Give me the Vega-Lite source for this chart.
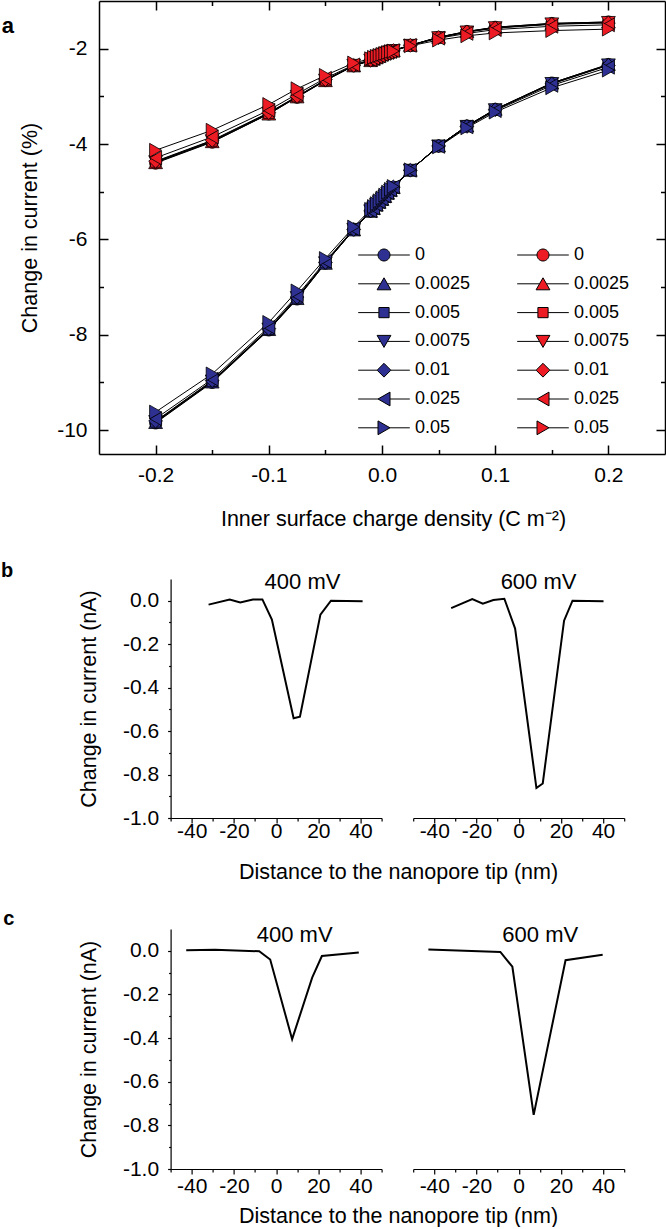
{
"$schema":"https://vega.github.io/schema/vega-lite/v6.json",
"padding":0,
"background":"white",
"config":{
 "font":"Liberation Sans",
 "locale":{"number":{"decimal":".","thousands":",","grouping":[3],"currency":["$",""],"minus":"-"}},
 "view":{"stroke":null},
 "axis":{"grid":false,"labelFont":"Liberation Sans","titleFont":"Liberation Sans","labelFontSize":21,"titleFontSize":21.5,"titleFontWeight":"normal","labelColor":"black","titleColor":"black","domainColor":"black","tickColor":"black","labelOverlap":false,"labelFlush":false},
 "legend":{"labelFont":"Liberation Sans","labelColor":"black"},
 "title":{"font":"Liberation Sans","color":"black","fontWeight":"normal"},
 "text":{"font":"Liberation Sans","fontSize":22,"color":"black"}
},
"datasets":{
"a":[
{"s":"B 0","x":-0.2,"y":-9.85},{"s":"B 0","x":-0.15,"y":-9.0},{"s":"B 0","x":-0.1,"y":-7.9},{"s":"B 0","x":-0.075,"y":-7.25},{"s":"B 0","x":-0.05,"y":-6.5},{"s":"B 0","x":-0.025,"y":-5.8},{"s":"B 0","x":-0.01,"y":-5.41},{"s":"B 0","x":-0.0075,"y":-5.35},{"s":"B 0","x":-0.005,"y":-5.28},{"s":"B 0","x":-0.0025,"y":-5.22},{"s":"B 0","x":0,"y":-5.16},{"s":"B 0","x":0.0025,"y":-5.1},{"s":"B 0","x":0.005,"y":-5.03},{"s":"B 0","x":0.0075,"y":-4.97},{"s":"B 0","x":0.01,"y":-4.91},{"s":"B 0","x":0.025,"y":-4.55},{"s":"B 0","x":0.05,"y":-4.04},{"s":"B 0","x":0.075,"y":-3.62},{"s":"B 0","x":0.1,"y":-3.27},{"s":"B 0","x":0.15,"y":-2.72},{"s":"B 0","x":0.2,"y":-2.33},
{"s":"B 0.0025","x":-0.2,"y":-9.84},{"s":"B 0.0025","x":-0.15,"y":-8.99},{"s":"B 0.0025","x":-0.1,"y":-7.89},{"s":"B 0.0025","x":-0.075,"y":-7.24},{"s":"B 0.0025","x":-0.05,"y":-6.5},{"s":"B 0.0025","x":-0.025,"y":-5.8},{"s":"B 0.0025","x":-0.01,"y":-5.41},{"s":"B 0.0025","x":-0.0075,"y":-5.35},{"s":"B 0.0025","x":-0.005,"y":-5.28},{"s":"B 0.0025","x":-0.0025,"y":-5.22},{"s":"B 0.0025","x":0,"y":-5.16},{"s":"B 0.0025","x":0.0025,"y":-5.1},{"s":"B 0.0025","x":0.005,"y":-5.03},{"s":"B 0.0025","x":0.0075,"y":-4.97},{"s":"B 0.0025","x":0.01,"y":-4.91},{"s":"B 0.0025","x":0.025,"y":-4.55},{"s":"B 0.0025","x":0.05,"y":-4.04},{"s":"B 0.0025","x":0.075,"y":-3.62},{"s":"B 0.0025","x":0.1,"y":-3.27},{"s":"B 0.0025","x":0.15,"y":-2.72},{"s":"B 0.0025","x":0.2,"y":-2.33},
{"s":"B 0.005","x":-0.2,"y":-9.83},{"s":"B 0.005","x":-0.15,"y":-8.98},{"s":"B 0.005","x":-0.1,"y":-7.89},{"s":"B 0.005","x":-0.075,"y":-7.23},{"s":"B 0.005","x":-0.05,"y":-6.49},{"s":"B 0.005","x":-0.025,"y":-5.79},{"s":"B 0.005","x":-0.01,"y":-5.41},{"s":"B 0.005","x":-0.0075,"y":-5.34},{"s":"B 0.005","x":-0.005,"y":-5.28},{"s":"B 0.005","x":-0.0025,"y":-5.22},{"s":"B 0.005","x":0,"y":-5.16},{"s":"B 0.005","x":0.0025,"y":-5.1},{"s":"B 0.005","x":0.005,"y":-5.03},{"s":"B 0.005","x":0.0075,"y":-4.97},{"s":"B 0.005","x":0.01,"y":-4.91},{"s":"B 0.005","x":0.025,"y":-4.55},{"s":"B 0.005","x":0.05,"y":-4.04},{"s":"B 0.005","x":0.075,"y":-3.62},{"s":"B 0.005","x":0.1,"y":-3.28},{"s":"B 0.005","x":0.15,"y":-2.73},{"s":"B 0.005","x":0.2,"y":-2.34},
{"s":"B 0.0075","x":-0.2,"y":-9.82},{"s":"B 0.0075","x":-0.15,"y":-8.97},{"s":"B 0.0075","x":-0.1,"y":-7.88},{"s":"B 0.0075","x":-0.075,"y":-7.22},{"s":"B 0.0075","x":-0.05,"y":-6.49},{"s":"B 0.0075","x":-0.025,"y":-5.79},{"s":"B 0.0075","x":-0.01,"y":-5.4},{"s":"B 0.0075","x":-0.0075,"y":-5.34},{"s":"B 0.0075","x":-0.005,"y":-5.27},{"s":"B 0.0075","x":-0.0025,"y":-5.21},{"s":"B 0.0075","x":0,"y":-5.15},{"s":"B 0.0075","x":0.0025,"y":-5.09},{"s":"B 0.0075","x":0.005,"y":-5.03},{"s":"B 0.0075","x":0.0075,"y":-4.97},{"s":"B 0.0075","x":0.01,"y":-4.91},{"s":"B 0.0075","x":0.025,"y":-4.55},{"s":"B 0.0075","x":0.05,"y":-4.04},{"s":"B 0.0075","x":0.075,"y":-3.63},{"s":"B 0.0075","x":0.1,"y":-3.28},{"s":"B 0.0075","x":0.15,"y":-2.73},{"s":"B 0.0075","x":0.2,"y":-2.34},
{"s":"B 0.01","x":-0.2,"y":-9.81},{"s":"B 0.01","x":-0.15,"y":-8.96},{"s":"B 0.01","x":-0.1,"y":-7.87},{"s":"B 0.01","x":-0.075,"y":-7.21},{"s":"B 0.01","x":-0.05,"y":-6.48},{"s":"B 0.01","x":-0.025,"y":-5.79},{"s":"B 0.01","x":-0.01,"y":-5.4},{"s":"B 0.01","x":-0.0075,"y":-5.34},{"s":"B 0.01","x":-0.005,"y":-5.27},{"s":"B 0.01","x":-0.0025,"y":-5.21},{"s":"B 0.01","x":0,"y":-5.15},{"s":"B 0.01","x":0.0025,"y":-5.09},{"s":"B 0.01","x":0.005,"y":-5.02},{"s":"B 0.01","x":0.0075,"y":-4.96},{"s":"B 0.01","x":0.01,"y":-4.9},{"s":"B 0.01","x":0.025,"y":-4.55},{"s":"B 0.01","x":0.05,"y":-4.04},{"s":"B 0.01","x":0.075,"y":-3.63},{"s":"B 0.01","x":0.1,"y":-3.28},{"s":"B 0.01","x":0.15,"y":-2.74},{"s":"B 0.01","x":0.2,"y":-2.35},
{"s":"B 0.025","x":-0.2,"y":-9.76},{"s":"B 0.025","x":-0.15,"y":-8.93},{"s":"B 0.025","x":-0.1,"y":-7.84},{"s":"B 0.025","x":-0.075,"y":-7.18},{"s":"B 0.025","x":-0.05,"y":-6.46},{"s":"B 0.025","x":-0.025,"y":-5.78},{"s":"B 0.025","x":-0.01,"y":-5.4},{"s":"B 0.025","x":-0.0075,"y":-5.34},{"s":"B 0.025","x":-0.005,"y":-5.27},{"s":"B 0.025","x":-0.0025,"y":-5.21},{"s":"B 0.025","x":0,"y":-5.15},{"s":"B 0.025","x":0.0025,"y":-5.09},{"s":"B 0.025","x":0.005,"y":-5.02},{"s":"B 0.025","x":0.0075,"y":-4.96},{"s":"B 0.025","x":0.01,"y":-4.9},{"s":"B 0.025","x":0.025,"y":-4.55},{"s":"B 0.025","x":0.05,"y":-4.05},{"s":"B 0.025","x":0.075,"y":-3.64},{"s":"B 0.025","x":0.1,"y":-3.3},{"s":"B 0.025","x":0.15,"y":-2.77},{"s":"B 0.025","x":0.2,"y":-2.39},
{"s":"B 0.05","x":-0.2,"y":-9.62},{"s":"B 0.05","x":-0.15,"y":-8.82},{"s":"B 0.05","x":-0.1,"y":-7.74},{"s":"B 0.05","x":-0.075,"y":-7.08},{"s":"B 0.05","x":-0.05,"y":-6.4},{"s":"B 0.05","x":-0.025,"y":-5.74},{"s":"B 0.05","x":-0.01,"y":-5.37},{"s":"B 0.05","x":-0.0075,"y":-5.31},{"s":"B 0.05","x":-0.005,"y":-5.25},{"s":"B 0.05","x":-0.0025,"y":-5.19},{"s":"B 0.05","x":0,"y":-5.13},{"s":"B 0.05","x":0.0025,"y":-5.07},{"s":"B 0.05","x":0.005,"y":-5.01},{"s":"B 0.05","x":0.0075,"y":-4.95},{"s":"B 0.05","x":0.01,"y":-4.89},{"s":"B 0.05","x":0.025,"y":-4.54},{"s":"B 0.05","x":0.05,"y":-4.06},{"s":"B 0.05","x":0.075,"y":-3.66},{"s":"B 0.05","x":0.1,"y":-3.33},{"s":"B 0.05","x":0.15,"y":-2.82},{"s":"B 0.05","x":0.2,"y":-2.45},
{"s":"R 0","x":-0.2,"y":-4.4},{"s":"R 0","x":-0.15,"y":-3.96},{"s":"R 0","x":-0.1,"y":-3.37},{"s":"R 0","x":-0.075,"y":-3.02},{"s":"R 0","x":-0.05,"y":-2.67},{"s":"R 0","x":-0.025,"y":-2.36},{"s":"R 0","x":-0.01,"y":-2.25},{"s":"R 0","x":-0.0075,"y":-2.22},{"s":"R 0","x":-0.005,"y":-2.19},{"s":"R 0","x":-0.0025,"y":-2.16},{"s":"R 0","x":0,"y":-2.13},{"s":"R 0","x":0.0025,"y":-2.1},{"s":"R 0","x":0.005,"y":-2.08},{"s":"R 0","x":0.0075,"y":-2.06},{"s":"R 0","x":0.01,"y":-2.04},{"s":"R 0","x":0.025,"y":-1.93},{"s":"R 0","x":0.05,"y":-1.76},{"s":"R 0","x":0.075,"y":-1.64},{"s":"R 0","x":0.1,"y":-1.55},{"s":"R 0","x":0.15,"y":-1.47},{"s":"R 0","x":0.2,"y":-1.44},
{"s":"R 0.0025","x":-0.2,"y":-4.39},{"s":"R 0.0025","x":-0.15,"y":-3.95},{"s":"R 0.0025","x":-0.1,"y":-3.37},{"s":"R 0.0025","x":-0.075,"y":-3.01},{"s":"R 0.0025","x":-0.05,"y":-2.67},{"s":"R 0.0025","x":-0.025,"y":-2.36},{"s":"R 0.0025","x":-0.01,"y":-2.25},{"s":"R 0.0025","x":-0.0075,"y":-2.22},{"s":"R 0.0025","x":-0.005,"y":-2.19},{"s":"R 0.0025","x":-0.0025,"y":-2.16},{"s":"R 0.0025","x":0,"y":-2.13},{"s":"R 0.0025","x":0.0025,"y":-2.1},{"s":"R 0.0025","x":0.005,"y":-2.08},{"s":"R 0.0025","x":0.0075,"y":-2.06},{"s":"R 0.0025","x":0.01,"y":-2.04},{"s":"R 0.0025","x":0.025,"y":-1.93},{"s":"R 0.0025","x":0.05,"y":-1.76},{"s":"R 0.0025","x":0.075,"y":-1.64},{"s":"R 0.0025","x":0.1,"y":-1.55},{"s":"R 0.0025","x":0.15,"y":-1.47},{"s":"R 0.0025","x":0.2,"y":-1.44},
{"s":"R 0.005","x":-0.2,"y":-4.38},{"s":"R 0.005","x":-0.15,"y":-3.94},{"s":"R 0.005","x":-0.1,"y":-3.36},{"s":"R 0.005","x":-0.075,"y":-3.01},{"s":"R 0.005","x":-0.05,"y":-2.66},{"s":"R 0.005","x":-0.025,"y":-2.36},{"s":"R 0.005","x":-0.01,"y":-2.24},{"s":"R 0.005","x":-0.0075,"y":-2.21},{"s":"R 0.005","x":-0.005,"y":-2.19},{"s":"R 0.005","x":-0.0025,"y":-2.16},{"s":"R 0.005","x":0,"y":-2.13},{"s":"R 0.005","x":0.0025,"y":-2.1},{"s":"R 0.005","x":0.005,"y":-2.08},{"s":"R 0.005","x":0.0075,"y":-2.06},{"s":"R 0.005","x":0.01,"y":-2.04},{"s":"R 0.005","x":0.025,"y":-1.93},{"s":"R 0.005","x":0.05,"y":-1.76},{"s":"R 0.005","x":0.075,"y":-1.64},{"s":"R 0.005","x":0.1,"y":-1.56},{"s":"R 0.005","x":0.15,"y":-1.48},{"s":"R 0.005","x":0.2,"y":-1.45},
{"s":"R 0.0075","x":-0.2,"y":-4.37},{"s":"R 0.0075","x":-0.15,"y":-3.93},{"s":"R 0.0075","x":-0.1,"y":-3.35},{"s":"R 0.0075","x":-0.075,"y":-3.0},{"s":"R 0.0075","x":-0.05,"y":-2.66},{"s":"R 0.0075","x":-0.025,"y":-2.35},{"s":"R 0.0075","x":-0.01,"y":-2.24},{"s":"R 0.0075","x":-0.0075,"y":-2.21},{"s":"R 0.0075","x":-0.005,"y":-2.18},{"s":"R 0.0075","x":-0.0025,"y":-2.15},{"s":"R 0.0075","x":0,"y":-2.13},{"s":"R 0.0075","x":0.0025,"y":-2.1},{"s":"R 0.0075","x":0.005,"y":-2.08},{"s":"R 0.0075","x":0.0075,"y":-2.06},{"s":"R 0.0075","x":0.01,"y":-2.04},{"s":"R 0.0075","x":0.025,"y":-1.93},{"s":"R 0.0075","x":0.05,"y":-1.77},{"s":"R 0.0075","x":0.075,"y":-1.65},{"s":"R 0.0075","x":0.1,"y":-1.56},{"s":"R 0.0075","x":0.15,"y":-1.48},{"s":"R 0.0075","x":0.2,"y":-1.45},
{"s":"R 0.01","x":-0.2,"y":-4.36},{"s":"R 0.01","x":-0.15,"y":-3.92},{"s":"R 0.01","x":-0.1,"y":-3.34},{"s":"R 0.01","x":-0.075,"y":-3.0},{"s":"R 0.01","x":-0.05,"y":-2.65},{"s":"R 0.01","x":-0.025,"y":-2.35},{"s":"R 0.01","x":-0.01,"y":-2.24},{"s":"R 0.01","x":-0.0075,"y":-2.21},{"s":"R 0.01","x":-0.005,"y":-2.18},{"s":"R 0.01","x":-0.0025,"y":-2.15},{"s":"R 0.01","x":0,"y":-2.12},{"s":"R 0.01","x":0.0025,"y":-2.1},{"s":"R 0.01","x":0.005,"y":-2.08},{"s":"R 0.01","x":0.0075,"y":-2.06},{"s":"R 0.01","x":0.01,"y":-2.04},{"s":"R 0.01","x":0.025,"y":-1.93},{"s":"R 0.01","x":0.05,"y":-1.77},{"s":"R 0.01","x":0.075,"y":-1.65},{"s":"R 0.01","x":0.1,"y":-1.57},{"s":"R 0.01","x":0.15,"y":-1.49},{"s":"R 0.01","x":0.2,"y":-1.46},
{"s":"R 0.025","x":-0.2,"y":-4.29},{"s":"R 0.025","x":-0.15,"y":-3.85},{"s":"R 0.025","x":-0.1,"y":-3.29},{"s":"R 0.025","x":-0.075,"y":-2.95},{"s":"R 0.025","x":-0.05,"y":-2.62},{"s":"R 0.025","x":-0.025,"y":-2.34},{"s":"R 0.025","x":-0.01,"y":-2.23},{"s":"R 0.025","x":-0.0075,"y":-2.2},{"s":"R 0.025","x":-0.005,"y":-2.17},{"s":"R 0.025","x":-0.0025,"y":-2.15},{"s":"R 0.025","x":0,"y":-2.12},{"s":"R 0.025","x":0.0025,"y":-2.1},{"s":"R 0.025","x":0.005,"y":-2.08},{"s":"R 0.025","x":0.0075,"y":-2.06},{"s":"R 0.025","x":0.01,"y":-2.04},{"s":"R 0.025","x":0.025,"y":-1.93},{"s":"R 0.025","x":0.05,"y":-1.78},{"s":"R 0.025","x":0.075,"y":-1.68},{"s":"R 0.025","x":0.1,"y":-1.6},{"s":"R 0.025","x":0.15,"y":-1.53},{"s":"R 0.025","x":0.2,"y":-1.5},
{"s":"R 0.05","x":-0.2,"y":-4.13},{"s":"R 0.05","x":-0.15,"y":-3.71},{"s":"R 0.05","x":-0.1,"y":-3.17},{"s":"R 0.05","x":-0.075,"y":-2.84},{"s":"R 0.05","x":-0.05,"y":-2.56},{"s":"R 0.05","x":-0.025,"y":-2.3},{"s":"R 0.05","x":-0.01,"y":-2.21},{"s":"R 0.05","x":-0.0075,"y":-2.18},{"s":"R 0.05","x":-0.005,"y":-2.16},{"s":"R 0.05","x":-0.0025,"y":-2.14},{"s":"R 0.05","x":0,"y":-2.12},{"s":"R 0.05","x":0.0025,"y":-2.1},{"s":"R 0.05","x":0.005,"y":-2.08},{"s":"R 0.05","x":0.0075,"y":-2.06},{"s":"R 0.05","x":0.01,"y":-2.05},{"s":"R 0.05","x":0.025,"y":-1.94},{"s":"R 0.05","x":0.05,"y":-1.82},{"s":"R 0.05","x":0.075,"y":-1.73},{"s":"R 0.05","x":0.1,"y":-1.67},{"s":"R 0.05","x":0.15,"y":-1.62},{"s":"R 0.05","x":0.2,"y":-1.59}
],
"bc":[
{"p":"b400","x":-32,"y":-0.018},{"p":"b400","x":-22,"y":0.005},{"p":"b400","x":-17,"y":-0.008},{"p":"b400","x":-11,"y":0.006},{"p":"b400","x":-6.5,"y":0.006},{"p":"b400","x":-2,"y":-0.087},{"p":"b400","x":8.3,"y":-0.541},{"p":"b400","x":11.3,"y":-0.534},{"p":"b400","x":21,"y":-0.064},{"p":"b400","x":26,"y":0.0},{"p":"b400","x":41,"y":-0.002},
{"p":"b600","x":-32,"y":-0.034},{"p":"b600","x":-22,"y":0.008},{"p":"b600","x":-17,"y":-0.014},{"p":"b600","x":-12,"y":0.003},{"p":"b600","x":-6.8,"y":0.009},{"p":"b600","x":-1.7,"y":-0.128},{"p":"b600","x":8.4,"y":-0.862},{"p":"b600","x":11.4,"y":-0.841},{"p":"b600","x":21.5,"y":-0.092},{"p":"b600","x":25.5,"y":0.0},{"p":"b600","x":40.2,"y":-0.002},
{"p":"c400","x":-42.6,"y":0.003},{"p":"c400","x":-29,"y":0.005},{"p":"c400","x":-8,"y":-0.002},{"p":"c400","x":-2.8,"y":-0.04},{"p":"c400","x":7.6,"y":-0.405},{"p":"c400","x":17.1,"y":-0.123},{"p":"c400","x":21.7,"y":-0.024},{"p":"c400","x":39.2,"y":-0.008},
{"p":"c600","x":-42.8,"y":0.006},{"p":"c600","x":-8.7,"y":-0.005},{"p":"c600","x":-3,"y":-0.073},{"p":"c600","x":7.1,"y":-0.752},{"p":"c600","x":22.2,"y":-0.043},{"p":"c600","x":39.8,"y":-0.018}
]
},
"spacing":30,
"vconcat":[
{
 "width":566,"height":453,
 "title":{"text":"a","orient":"left","anchor":"end","angle":0,"align":"right","baseline":"top","fontSize":22,"fontWeight":"bold","offset":-6.5,"frame":"bounds","dy":16},
 "data":{"name":"a"},
 "layer":[
  {"mark":{"type":"line","color":"black","strokeWidth":1},
   "encoding":{
    "x":{"field":"x","type":"quantitative","scale":{"domain":[-0.25,0.25],"nice":false,"zero":false},
     "axis":{"orient":"bottom","values":[-0.2,-0.15,-0.1,-0.05,0,0.05,0.1,0.15,0.2],"format":".1f","labelExpr":"abs(datum.value*10 - round(datum.value*10)) < 0.001 ? replace(datum.label, '−', '-') : ''","tickSize":{"condition":{"test":"abs(datum.value*10 - round(datum.value*10)) < 0.001","value":-9},"value":-4.5},"labelPadding":19.5,"domainWidth":1.5,"tickWidth":1.5,"title":"Inner surface charge density (C m⁻²)","titlePadding":18,"titleX":294}},
    "y":{"field":"y","type":"quantitative","scale":{"domain":[-10.5,-1],"nice":false,"zero":false},
     "axis":{"orient":"left","values":[-10,-9,-8,-7,-6,-5,-4,-3,-2],"format":"d","labelExpr":"datum.value % 2 == 0 ? replace(datum.label, '−', '-') : ''","tickSize":{"condition":{"test":"datum.value % 2 == 0","value":-9},"value":-4.5},"labelPadding":21,"domainWidth":1.5,"tickWidth":1.5,"title":"Change in current (%)","titlePadding":15}},
    "detail":{"field":"s"}
   }},
  {"mark":{"type":"point","filled":true,"stroke":"black","strokeWidth":0.8,"size":144,"opacity":1},
   "encoding":{
    "x":{"field":"x","type":"quantitative","axis":{"orient":"top","values":[-0.2,-0.15,-0.1,-0.05,0,0.05,0.1,0.15,0.2],"labels":false,"title":null,"tickSize":{"condition":{"test":"abs(datum.value*10 - round(datum.value*10)) < 0.001","value":-9},"value":-4.5},"domainWidth":1.5,"tickWidth":1.5}},
    "y":{"field":"y","type":"quantitative","axis":{"orient":"right","values":[-10,-9,-8,-7,-6,-5,-4,-3,-2],"labels":false,"title":null,"tickSize":{"condition":{"test":"datum.value % 2 == 0","value":-9},"value":-4.5},"domainWidth":1.5,"tickWidth":1.5}},
    "shape":{"field":"s","type":"nominal","legend":null,"scale":{"domain":["B 0","B 0.0025","B 0.005","B 0.0075","B 0.01","B 0.025","B 0.05","R 0","R 0.0025","R 0.005","R 0.0075","R 0.01","R 0.025","R 0.05"],"range":["M1,0A1,1,0,1,1,-1,0A1,1,0,1,1,1,0Z","M0,-1L1.15,1L-1.15,1Z","M-0.85,-0.85H0.85V0.85H-0.85Z","M0,1L1.15,-1L-1.15,-1Z","M-1.15,0L0,-1.15L1.15,0L0,1.15Z","M-1,0L1,-1.15L1,1.15Z","M1,0L-1,-1.15L-1,1.15Z","M1,0A1,1,0,1,1,-1,0A1,1,0,1,1,1,0Z","M0,-1L1.15,1L-1.15,1Z","M-0.85,-0.85H0.85V0.85H-0.85Z","M0,1L1.15,-1L-1.15,-1Z","M-1.15,0L0,-1.15L1.15,0L0,1.15Z","M-1,0L1,-1.15L1,1.15Z","M1,0L-1,-1.15L-1,1.15Z"]}},
    "fill":{"field":"s","type":"nominal","legend":null,"scale":{"domain":["B 0","B 0.0025","B 0.005","B 0.0075","B 0.01","B 0.025","B 0.05","R 0","R 0.0025","R 0.005","R 0.0075","R 0.01","R 0.025","R 0.05"],"range":["#2E3192","#2E3192","#2E3192","#2E3192","#2E3192","#2E3192","#2E3192","#ED1C24","#ED1C24","#ED1C24","#ED1C24","#ED1C24","#ED1C24","#ED1C24"]}}
   }},
  {"mark":{"type":"point","filled":true,"stroke":"black","strokeWidth":1,"size":0,"opacity":1},
   "encoding":{
    "x":{"field":"x","type":"quantitative","axis":null},
    "y":{"field":"y","type":"quantitative","axis":null},
    "shape":{"field":"s","type":"nominal","scale":{"domain":["B 0","B 0.0025","B 0.005","B 0.0075","B 0.01","B 0.025","B 0.05","R 0","R 0.0025","R 0.005","R 0.0075","R 0.01","R 0.025","R 0.05"],"range":["M-4.3,0H-1M1,0H4.3M1,0A1,1,0,1,1,-1,0A1,1,0,1,1,1,0Z","M-4.3,0H-0.575M0.575,0H4.3M0,-1L1.15,1L-1.15,1Z","M-4.3,0H-0.85M0.85,0H4.3M-0.85,-0.85H0.85V0.85H-0.85Z","M-4.3,0H-0.575M0.575,0H4.3M0,1L1.15,-1L-1.15,-1Z","M-4.3,0H-1.15M1.15,0H4.3M-1.15,0L0,-1.15L1.15,0L0,1.15Z","M-4.3,0H-1M1,0H4.3M-1,0L1,-1.15L1,1.15Z","M-4.3,0H-1M1,0H4.3M1,0L-1,-1.15L-1,1.15Z","M-4.3,0H-1M1,0H4.3M1,0A1,1,0,1,1,-1,0A1,1,0,1,1,1,0Z","M-4.3,0H-0.575M0.575,0H4.3M0,-1L1.15,1L-1.15,1Z","M-4.3,0H-0.85M0.85,0H4.3M-0.85,-0.85H0.85V0.85H-0.85Z","M-4.3,0H-0.575M0.575,0H4.3M0,1L1.15,-1L-1.15,-1Z","M-4.3,0H-1.15M1.15,0H4.3M-1.15,0L0,-1.15L1.15,0L0,1.15Z","M-4.3,0H-1M1,0H4.3M-1,0L1,-1.15L1,1.15Z","M-4.3,0H-1M1,0H4.3M1,0L-1,-1.15L-1,1.15Z"]},
     "legend":{"orient":"none","legendX":276,"legendY":245,"columns":2,"title":null,"padding":0,"symbolSize":144,"symbolStrokeWidth":1,"symbolOpacity":1,"labelFontSize":18,"labelOffset":22,"columnPadding":44,"rowPadding":10.8,"labelExpr":"slice(datum.label, 2)"}},
    "fill":{"field":"s","type":"nominal","scale":{"domain":["B 0","B 0.0025","B 0.005","B 0.0075","B 0.01","B 0.025","B 0.05","R 0","R 0.0025","R 0.005","R 0.0075","R 0.01","R 0.025","R 0.05"],"range":["#2E3192","#2E3192","#2E3192","#2E3192","#2E3192","#2E3192","#2E3192","#ED1C24","#ED1C24","#ED1C24","#ED1C24","#ED1C24","#ED1C24","#ED1C24"]},
     "legend":{"orient":"none","legendX":276,"legendY":245,"columns":2,"title":null,"padding":0,"symbolSize":144,"symbolStrokeWidth":1,"symbolOpacity":1,"labelFontSize":18,"labelOffset":22,"columnPadding":44,"rowPadding":10.8,"labelExpr":"slice(datum.label, 2)"}}
   }}
 ],
 "resolve":{"axis":{"x":"independent","y":"independent"},"scale":{"shape":"independent","fill":"independent"}}
},
{
 "spacing":25,
 "vconcat":[
  {
   "title":{"text":"b","orient":"left","anchor":"end","angle":0,"align":"right","baseline":"top","fontSize":20,"fontWeight":"bold","offset":53,"frame":"bounds","dy":-10},
   "bounds":"flush",
   "spacing":31.6,
   "hconcat":[
    {"width":39.9,"height":239,"data":{"values":[]},"mark":{"type":"point","opacity":0}},
    {"width":211,"height":239,
     "resolve":{"axis":{"x":"independent","y":"independent"}},
     "layer":[
      {"data":{"name":"bc"},"transform":[{"filter":"datum.p == 'b400'"}],
       "mark":{"type":"line","color":"black","strokeWidth":2},
       "encoding":{
        "x":{"field":"x","type":"quantitative","scale":{"domain":[-50,50],"nice":false,"zero":false},"axis":{"values":[-50,-40,-30,-20,-10,0,10,20,30,40,50],"format":"d","labelExpr":"datum.value % 20 == 0 ? replace(datum.label, '−', '-') : ''","tickSize":{"condition":{"test":"datum.value % 20 == 0","value":5},"value":3},"labelPadding":-3,"domainWidth":1.2,"tickWidth":1.2,"title":"Distance to the nanopore tip (nm)","titleX":227.5,"titlePadding":20.5}},
        "y":{"field":"y","type":"quantitative","scale":{"domain":[-1,0.1],"nice":false,"zero":false},"axis":{"values":[-1,-0.9,-0.8,-0.7,-0.6,-0.5,-0.4,-0.3,-0.2,-0.1,0],"format":".1f","labelExpr":"round(datum.value*10) % 2 == 0 ? replace(datum.label, '−', '-') : ''","tickSize":{"condition":{"test":"round(datum.value*10) % 2 == 0","value":3},"value":2},"labelPadding":9,"domainWidth":1.2,"tickWidth":1.2,"title":"Change in current (nA)","titlePadding":22}}
       }},
      {"data":{"values":[{"t":"400 mV"}]},
       "mark":{"type":"text","align":"center","baseline":"alphabetic"},
       "encoding":{"x":{"datum":12.5,"type":"quantitative","axis":null},"y":{"datum":0.055,"type":"quantitative","axis":null},"text":{"field":"t"}}}
     ]},
    {"width":211,"height":239,
     "resolve":{"axis":{"x":"independent","y":"independent"}},
     "layer":[
      {"data":{"name":"bc"},"transform":[{"filter":"datum.p == 'b600'"}],
       "mark":{"type":"line","color":"black","strokeWidth":2},
       "encoding":{
        "x":{"field":"x","type":"quantitative","scale":{"domain":[-50,50],"nice":false,"zero":false},"axis":{"values":[-50,-40,-30,-20,-10,0,10,20,30,40,50],"format":"d","labelExpr":"datum.value % 20 == 0 ? replace(datum.label, '−', '-') : ''","tickSize":{"condition":{"test":"datum.value % 20 == 0","value":5},"value":3},"labelPadding":-3,"domainWidth":1.2,"tickWidth":1.2,"title":null}},
        "y":{"field":"y","type":"quantitative","scale":{"domain":[-1,0.1],"nice":false,"zero":false},"axis":null}
       }},
      {"data":{"values":[{"t":"600 mV"}]},
       "mark":{"type":"text","align":"center","baseline":"alphabetic"},
       "encoding":{"x":{"datum":9.4,"type":"quantitative","axis":null},"y":{"datum":0.055,"type":"quantitative","axis":null},"text":{"field":"t"}}}
     ]}
   ]
  },
  {
   "title":{"text":"c","orient":"left","anchor":"end","angle":0,"align":"right","baseline":"top","fontSize":20,"fontWeight":"bold","offset":53,"frame":"bounds","dy":-15},
   "bounds":"flush",
   "spacing":31.6,
   "hconcat":[
    {"width":39.9,"height":240,"data":{"values":[]},"mark":{"type":"point","opacity":0}},
    {"width":211,"height":240,
     "resolve":{"axis":{"x":"independent","y":"independent"}},
     "layer":[
      {"data":{"name":"bc"},"transform":[{"filter":"datum.p == 'c400'"}],
       "mark":{"type":"line","color":"black","strokeWidth":2},
       "encoding":{
        "x":{"field":"x","type":"quantitative","scale":{"domain":[-50,50],"nice":false,"zero":false},"axis":{"values":[-50,-40,-30,-20,-10,0,10,20,30,40,50],"format":"d","labelExpr":"datum.value % 20 == 0 ? replace(datum.label, '−', '-') : ''","tickSize":{"condition":{"test":"datum.value % 20 == 0","value":5},"value":3},"labelPadding":1.5,"domainWidth":1.2,"tickWidth":1.2,"title":"Distance to the nanopore tip (nm)","titleX":227.5,"titlePadding":8.5}},
        "y":{"field":"y","type":"quantitative","scale":{"domain":[-1,0.1],"nice":false,"zero":false},"axis":{"values":[-1,-0.9,-0.8,-0.7,-0.6,-0.5,-0.4,-0.3,-0.2,-0.1,0],"format":".1f","labelExpr":"round(datum.value*10) % 2 == 0 ? replace(datum.label, '−', '-') : ''","tickSize":{"condition":{"test":"round(datum.value*10) % 2 == 0","value":3},"value":2},"labelPadding":9,"domainWidth":1.2,"tickWidth":1.2,"title":"Change in current (nA)","titlePadding":22}}
       }},
      {"data":{"values":[{"t":"400 mV"}]},
       "mark":{"type":"text","align":"center","baseline":"alphabetic"},
       "encoding":{"x":{"datum":8.8,"type":"quantitative","axis":null},"y":{"datum":0.041,"type":"quantitative","axis":null},"text":{"field":"t"}}}
     ]},
    {"width":211,"height":240,
     "resolve":{"axis":{"x":"independent","y":"independent"}},
     "layer":[
      {"data":{"name":"bc"},"transform":[{"filter":"datum.p == 'c600'"}],
       "mark":{"type":"line","color":"black","strokeWidth":2},
       "encoding":{
        "x":{"field":"x","type":"quantitative","scale":{"domain":[-50,50],"nice":false,"zero":false},"axis":{"values":[-50,-40,-30,-20,-10,0,10,20,30,40,50],"format":"d","labelExpr":"datum.value % 20 == 0 ? replace(datum.label, '−', '-') : ''","tickSize":{"condition":{"test":"datum.value % 20 == 0","value":5},"value":3},"labelPadding":1.5,"domainWidth":1.2,"tickWidth":1.2,"title":null}},
        "y":{"field":"y","type":"quantitative","scale":{"domain":[-1,0.1],"nice":false,"zero":false},"axis":null}
       }},
      {"data":{"values":[{"t":"600 mV"}]},
       "mark":{"type":"text","align":"center","baseline":"alphabetic"},
       "encoding":{"x":{"datum":10.2,"type":"quantitative","axis":null},"y":{"datum":0.041,"type":"quantitative","axis":null},"text":{"field":"t"}}}
     ]}
   ]
  }
 ]
}
]
}
